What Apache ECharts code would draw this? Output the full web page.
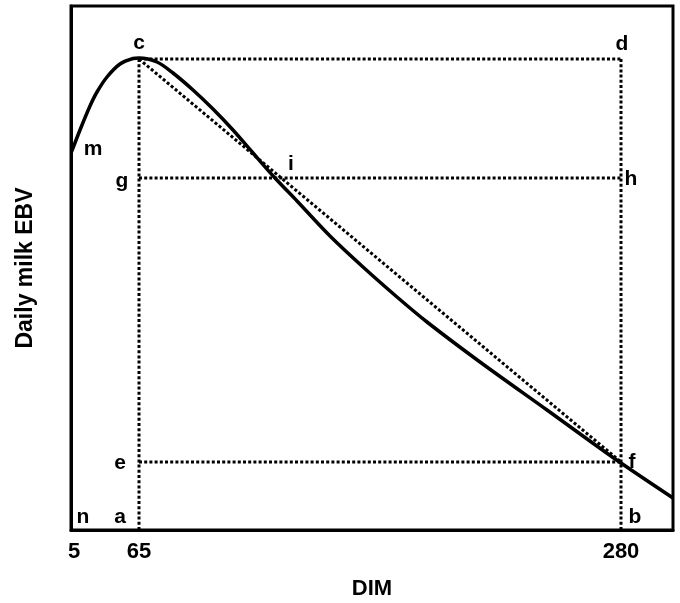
<!DOCTYPE html>
<html>
<head>
<meta charset="utf-8">
<script src="https://cdn.jsdelivr.net/npm/echarts@6/dist/echarts.min.js"></script>
<style>html,body{margin:0;padding:0;background:#fff;}#c{width:680px;height:603px;}</style>
</head>
<body>
<div id="c"></div>
<script>
// Schematic coordinates (x: position along DIM axis, y: daily milk EBV, arbitrary units)
const curveX = [0.5, 9, 19, 26, 36, 49, 62, 68, 86, 102, 122, 142, 162, 182, 204, 226, 259, 292, 326, 356, 409, 476, 542, 602];
const curveY = [378, 400, 424, 438, 453, 466, 471.5, 472, 468, 457, 440, 421, 400, 377, 352, 329, 294, 263, 233, 208, 168, 120, 72.5, 32];

const xTickPos = [0, 68, 550];
const xTickLabels = ['5', '65', '280'];

const xPeak = 68, xEnd = 550;       // DIM 65 and DIM 280
const yTop = 471, yMid = 352, yLow = 68;

const letterNames = ['c', 'd', 'm', 'g', 'i', 'h', 'e', 'f', 'n', 'a', 'b'];
const letterX = [68, 551, 22, 51, 220, 560, 49, 561, 12, 49, 564];
const letterY = [487, 486, 381, 349, 366, 351, 67, 68, 13, 13, 13];

const FONT = '"Liberation Sans", Arial, sans-serif';
const dotted = { color: '#000', width: 3, type: [3, 2.2], cap: 'butt' };

function seg(p) { return { type: 'line', data: p, symbol: 'none', lineStyle: dotted, silent: true, z: 2 }; }

const chart = echarts.init(document.getElementById('c'));
chart.setOption({
  animation: false,
  grid: { left: 71, right: 7, top: 6, bottom: 73, show: true, borderColor: '#000', borderWidth: 3, backgroundColor: 'transparent',
          containLabel: false, outerBoundsMode: 'none' },
  xAxis: {
    type: 'value', min: 0, max: 602,
    name: 'DIM', nameLocation: 'middle', nameGap: 48,
    nameTextStyle: { fontFamily: FONT, fontWeight: 'bold', fontSize: 22, color: '#000' },
    axisLine: { show: true, lineStyle: { color: '#000', width: 3 } },
    axisTick: { show: false },
    splitLine: { show: false },
    axisLabel: {
      customValues: xTickPos,
      formatter: v => v === 0 ? ' ' + xTickLabels[0] : (xTickLabels[xTickPos.indexOf(v)] ?? ''),
      fontFamily: FONT, fontWeight: 'bold', fontSize: 22, color: '#000', margin: 11
    }
  },
  yAxis: {
    type: 'value', min: 0, max: 524,
    name: 'Daily milk EBV', nameLocation: 'middle', nameGap: 34, nameRotate: 90,
    nameTextStyle: { fontFamily: FONT, fontWeight: 'bold', fontSize: 23, color: '#000' },
    axisLine: { show: true, lineStyle: { color: '#000', width: 3 } },
    axisTick: { show: false }, axisLabel: { show: false }, splitLine: { show: false }
  },
  series: [
    seg([[xPeak, 0], [xPeak, yTop]]),
    seg([[xEnd, 0], [xEnd, yTop]]),
    seg([[xPeak, yTop], [xEnd, yTop]]),
    seg([[xPeak, yMid], [xEnd, yMid]]),
    seg([[xPeak, yLow], [xEnd, yLow]]),
    seg([[xPeak, yTop], [xEnd, yLow]]),
    {
      type: 'line', data: curveX.map((x, i) => [x, curveY[i]]), symbol: 'none',
      smooth: 0.3,
      lineStyle: { color: '#000', width: 3.5 }, z: 3
    },
    {
      type: 'scatter', symbolSize: 0, z: 4,
      itemStyle: { color: '#000', opacity: 1 },
      data: letterNames.map((n, i) => ({ name: n, value: [letterX[i], letterY[i]] })),
      label: { show: true, position: 'inside', formatter: p => p.name, opacity: 1,
        fontFamily: FONT, fontWeight: 'bold', fontSize: 21, color: '#000' }
    }
  ]
});
</script>
</body>
</html>
